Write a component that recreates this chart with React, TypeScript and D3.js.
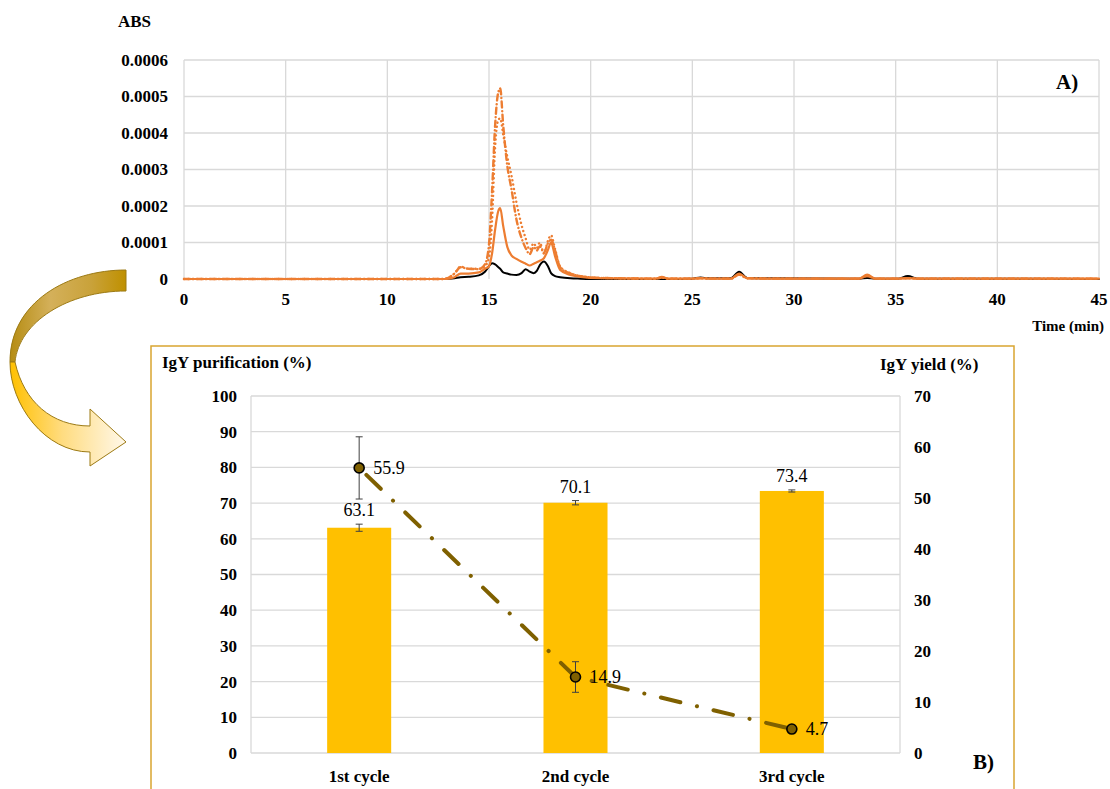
import { useEffect, useRef } from 'react'
import * as d3 from 'd3'

// Panel A: chromatogram (ABS in units of 1e-4)
const times = [0, 12.8, 13.3, 13.6, 14.0, 14.5, 14.8, 15.0, 15.15, 15.3, 15.45, 15.55, 15.7, 15.9, 16.1, 16.35, 16.6, 16.8, 17.0, 17.2, 17.35, 17.5, 17.7, 17.9, 18.05, 18.25, 18.5, 19.0, 19.5, 20.5, 23.2, 23.5, 23.8, 25.0, 25.4, 25.8, 26.9, 27.3, 27.7, 29.0, 33.2, 33.6, 34.0, 35.1, 35.6, 36.1, 45]
const absBlack = [0, 0, 0.02, 0.05, 0.06, 0.1, 0.2, 0.35, 0.43, 0.4, 0.33, 0.28, 0.18, 0.15, 0.12, 0.11, 0.16, 0.27, 0.2, 0.16, 0.22, 0.38, 0.48, 0.35, 0.16, 0.08, 0.05, 0.02, 0.01, 0, 0, 0, 0, 0.01, 0.04, 0.02, 0.02, 0.2, 0.03, 0.02, 0.01, 0.03, 0.01, 0.01, 0.08, 0.01, 0]
const absSolid = [0, 0, 0.05, 0.15, 0.15, 0.18, 0.28, 0.35, 0.7, 1.35, 1.85, 1.94, 1.45, 0.88, 0.65, 0.55, 0.47, 0.42, 0.37, 0.42, 0.46, 0.5, 0.57, 0.8, 1.0, 0.62, 0.25, 0.11, 0.06, 0.02, 0.01, 0.06, 0.01, 0.01, 0.02, 0.01, 0.01, 0.15, 0.02, 0.01, 0.01, 0.12, 0.01, 0.01, 0.02, 0.01, 0.01]
const absDotted = [0, 0, 0.15, 0.34, 0.28, 0.28, 0.35, 0.6, 1.6, 3.6, 4.35, 4.4, 3.95, 3.35, 2.85, 2.1, 1.48, 1.12, 0.8, 0.98, 0.85, 1.0, 0.7, 1.05, 1.2, 0.82, 0.34, 0.16, 0.08, 0.03, 0.01, 0.04, 0.01, 0.01, 0.02, 0.01, 0.01, 0.12, 0.02, 0.01, 0.01, 0.08, 0.01, 0.01, 0.02, 0.01, 0.01]
const absDashDot = [0, 0, 0.15, 0.32, 0.28, 0.27, 0.4, 0.95, 2.4, 4.2, 5.1, 5.22, 4.2, 3.1, 2.48, 1.63, 1.12, 0.85, 0.68, 0.88, 0.78, 0.9, 0.72, 0.98, 1.08, 0.78, 0.32, 0.15, 0.08, 0.03, 0.01, 0.04, 0.01, 0.01, 0.02, 0.01, 0.01, 0.12, 0.02, 0.01, 0.01, 0.08, 0.01, 0.01, 0.02, 0.01, 0.01]
const timeTicks = [0, 5, 10, 15, 20, 25, 30, 35, 40, 45]
const absTicks = [0, 0.0001, 0.0002, 0.0003, 0.0004, 0.0005, 0.0006]

// Panel B: purification cycles
const cycles = ['1st cycle', '2nd cycle', '3rd cycle']
const purification = [63.1, 70.1, 73.4]
const purificationErr = [1.0, 0.6, 0.3]
const yieldPct = [55.9, 14.9, 4.7]
const yieldErr = [6.1, 3.0, 0.3]
const purTicks = [0, 10, 20, 30, 40, 50, 60, 70, 80, 90, 100]
const yieldTicks = [0, 10, 20, 30, 40, 50, 60, 70]

const SERIF = '"Liberation Serif", "Times New Roman", serif'
const ORANGE = '#ED7D31'
const GRID = '#D9D9D9'

export default function App() {
  const svgRef = useRef<SVGSVGElement>(null)

  useEffect(() => {
    const el = svgRef.current
    if (!el) return
    const svg = d3.select(el)
    svg.selectAll('*').remove()
    svg.append('rect').attr('width', 1110).attr('height', 789).attr('fill', '#fff')

    // ---------- Panel A ----------
    const x = d3.scaleLinear().domain([0, 45]).range([184, 1099])
    const y = d3.scaleLinear().domain([0, 0.0006]).range([279, 60])
    const a = svg.append('g')

    a.selectAll('line.hg').data(absTicks.slice(1)).join('line')
      .attr('x1', x(0)).attr('x2', x(45))
      .attr('y1', d => y(d)).attr('y2', d => y(d))
      .attr('stroke', GRID).attr('stroke-width', 1.3)
    a.selectAll('line.vg').data(timeTicks).join('line')
      .attr('x1', d => x(d)).attr('x2', d => x(d))
      .attr('y1', y(0)).attr('y2', y(0.0006))
      .attr('stroke', GRID).attr('stroke-width', 1.3)

    a.selectAll('text.yt').data(absTicks).join('text')
      .attr('x', 168).attr('y', d => y(d)).attr('dy', '0.35em')
      .attr('text-anchor', 'end')
      .attr('font-family', SERIF).attr('font-weight', 'bold').attr('font-size', 17)
      .text(d => (d === 0 ? '0' : d.toFixed(4)))
    a.selectAll('text.xt').data(timeTicks).join('text')
      .attr('x', d => x(d)).attr('y', 305)
      .attr('text-anchor', 'middle')
      .attr('font-family', SERIF).attr('font-weight', 'bold').attr('font-size', 17)
      .text(d => d)

    const line = d3.line<number>()
      .x((_, i) => x(times[i]))
      .y(d => y(d * 1e-4))
      .curve(d3.curveMonotoneX)

    const series = [
      { v: absBlack, color: '#000', dash: null, w: 2 },
      { v: absSolid, color: ORANGE, dash: null, w: 2.2 },
      { v: absDotted, color: ORANGE, dash: '0.1,4.2', w: 2.4 },
      { v: absDashDot, color: ORANGE, dash: '6,3.5,0.1,3.5', w: 2.4 },
    ]
    series.forEach(s => {
      a.append('path').datum(s.v).attr('d', line)
        .attr('fill', 'none').attr('stroke', s.color)
        .attr('stroke-width', s.w)
        .attr('stroke-linecap', 'round').attr('stroke-linejoin', 'round')
        .attr('stroke-dasharray', s.dash)
    })

    a.append('text').attr('x', 118).attr('y', 27)
      .attr('font-family', SERIF).attr('font-weight', 'bold').attr('font-size', 17).text('ABS')
    a.append('text').attr('x', 1104).attr('y', 331).attr('text-anchor', 'end')
      .attr('font-family', SERIF).attr('font-weight', 'bold').attr('font-size', 15).text('Time (min)')
    a.append('text').attr('x', 1056).attr('y', 89)
      .attr('font-family', SERIF).attr('font-weight', 'bold').attr('font-size', 21).text('A)')

    // ---------- Arrow ----------
    const defs = svg.append('defs')
    const g1 = defs.append('linearGradient').attr('id', 'arrowBack')
      .attr('x1', 0).attr('x2', 1).attr('y1', 0).attr('y2', 0)
    ;[[0, '#B58C12'], [0.35, '#D4B05A'], [0.7, '#C9A23A'], [1, '#BF9000']].forEach(([o, c]) =>
      g1.append('stop').attr('offset', o as number).attr('stop-color', c as string))
    const g2 = defs.append('linearGradient').attr('id', 'arrowFront')
      .attr('x1', 0).attr('x2', 1).attr('y1', 0).attr('y2', 0)
    ;[[0, '#FFC000'], [0.45, '#FFDC80'], [1, '#FFF8EA']].forEach(([o, c]) =>
      g2.append('stop').attr('offset', o as number).attr('stop-color', c as string))

    svg.append('path')
      .attr('d', 'M126,270 C68,270 10,302 10,362 L15,362 C19,322 68,291 126,291 Z')
      .attr('fill', 'url(#arrowBack)').attr('stroke', '#9C7A14').attr('stroke-width', 1)
    svg.append('path')
      .attr('d', 'M10,362 C10,405 45,452 90,452 L90,466 L126,442 L90,409 L90,426 C52,426 24,402 15,362 Z')
      .attr('fill', 'url(#arrowFront)').attr('stroke', '#9C7A14').attr('stroke-width', 1)

    // ---------- Panel B ----------
    const b = svg.append('g')
    b.append('rect').attr('x', 151).attr('y', 346).attr('width', 863).attr('height', 470)
      .attr('fill', 'none').attr('stroke', '#D9A530').attr('stroke-width', 1.5)

    const xb = d3.scaleBand<string>().domain(cycles).range([251, 900])
      .paddingInner(0.704).paddingOuter(0.352)
    const cx = (c: string) => (xb(c) as number) + xb.bandwidth() / 2
    const yl = d3.scaleLinear().domain([0, 100]).range([753, 396])
    const yr = d3.scaleLinear().domain([0, 70]).range([753, 396])

    b.selectAll('line.hg').data(purTicks).join('line')
      .attr('x1', 251).attr('x2', 900)
      .attr('y1', d => yl(d)).attr('y2', d => yl(d))
      .attr('stroke', GRID).attr('stroke-width', 1.3)
    b.append('line').attr('x1', 251).attr('x2', 251).attr('y1', yl(0)).attr('y2', yl(100))
      .attr('stroke', GRID).attr('stroke-width', 1.3)
    b.append('line').attr('x1', 900).attr('x2', 900).attr('y1', yl(0)).attr('y2', yl(100))
      .attr('stroke', GRID).attr('stroke-width', 1.3)

    b.selectAll('text.yl').data(purTicks).join('text')
      .attr('x', 237).attr('y', d => yl(d)).attr('dy', '0.35em').attr('text-anchor', 'end')
      .attr('font-family', SERIF).attr('font-weight', 'bold').attr('font-size', 17)
      .text(d => d)
    b.selectAll('text.yr').data(yieldTicks).join('text')
      .attr('x', 914).attr('y', d => yr(d)).attr('dy', '0.35em')
      .attr('font-family', SERIF).attr('font-weight', 'bold').attr('font-size', 17)
      .text(d => d)
    b.selectAll('text.xc').data(cycles).join('text')
      .attr('x', d => cx(d)).attr('y', 782).attr('text-anchor', 'middle')
      .attr('font-family', SERIF).attr('font-weight', 'bold').attr('font-size', 17)
      .text(d => d)

    // bars
    b.selectAll('rect.bar').data(cycles).join('rect')
      .attr('x', d => xb(d) as number).attr('width', xb.bandwidth())
      .attr('y', (_, i) => yl(purification[i]))
      .attr('height', (_, i) => yl(0) - yl(purification[i]))
      .attr('fill', '#FFC000')

    const errBar = (px: number, y1: number, y2: number) => {
      b.append('line').attr('x1', px).attr('x2', px).attr('y1', y1).attr('y2', y2)
        .attr('stroke', '#404040').attr('stroke-width', 1)
      ;[y1, y2].forEach(yy => b.append('line').attr('x1', px - 3.5).attr('x2', px + 3.5)
        .attr('y1', yy).attr('y2', yy).attr('stroke', '#404040').attr('stroke-width', 1))
    }
    cycles.forEach((c, i) => {
      errBar(cx(c), yl(purification[i] + purificationErr[i]), yl(purification[i] - purificationErr[i]))
      b.append('text').attr('x', cx(c)).attr('y', yl(purification[i] + purificationErr[i]) - 8)
        .attr('text-anchor', 'middle')
        .attr('font-family', SERIF).attr('font-size', 18).text(purification[i].toFixed(1))
    })

    // yield line
    const yLine = d3.line<number>().x((_, i) => cx(cycles[i])).y(d => yr(d))
    b.append('path').datum(yieldPct).attr('d', yLine)
      .attr('fill', 'none').attr('stroke', '#7F6000').attr('stroke-width', 4)
      .attr('stroke-linecap', 'round').attr('stroke-dasharray', '20,17,0.1,17')
      .attr('stroke-dashoffset', -10)
    cycles.forEach((c, i) => {
      if (yieldErr[i] > 0.5) errBar(cx(c), yr(yieldPct[i] + yieldErr[i]), yr(yieldPct[i] - yieldErr[i]))
    })
    b.selectAll('circle.mk').data(yieldPct).join('circle')
      .attr('cx', (_, i) => cx(cycles[i])).attr('cy', d => yr(d)).attr('r', 5)
      .attr('fill', '#7F6000').attr('stroke', '#000').attr('stroke-width', 1.6)
    b.selectAll('text.yv').data(yieldPct).join('text')
      .attr('x', (_, i) => cx(cycles[i]) + 14).attr('y', d => yr(d)).attr('dy', '0.35em')
      .attr('font-family', SERIF).attr('font-size', 18).text(d => d.toFixed(1))

    b.append('text').attr('x', 162).attr('y', 368)
      .attr('font-family', SERIF).attr('font-weight', 'bold').attr('font-size', 17).text('IgY purification (%)')
    b.append('text').attr('x', 880).attr('y', 370)
      .attr('font-family', SERIF).attr('font-weight', 'bold').attr('font-size', 17).text('IgY yield (%)')
    b.append('text').attr('x', 973).attr('y', 769)
      .attr('font-family', SERIF).attr('font-weight', 'bold').attr('font-size', 21).text('B)')
  }, [])

  return (
    <svg
      ref={svgRef}
      width={1110}
      height={789}
      style={{ position: 'absolute', left: 0, top: 0, display: 'block' }}
    />
  )
}
